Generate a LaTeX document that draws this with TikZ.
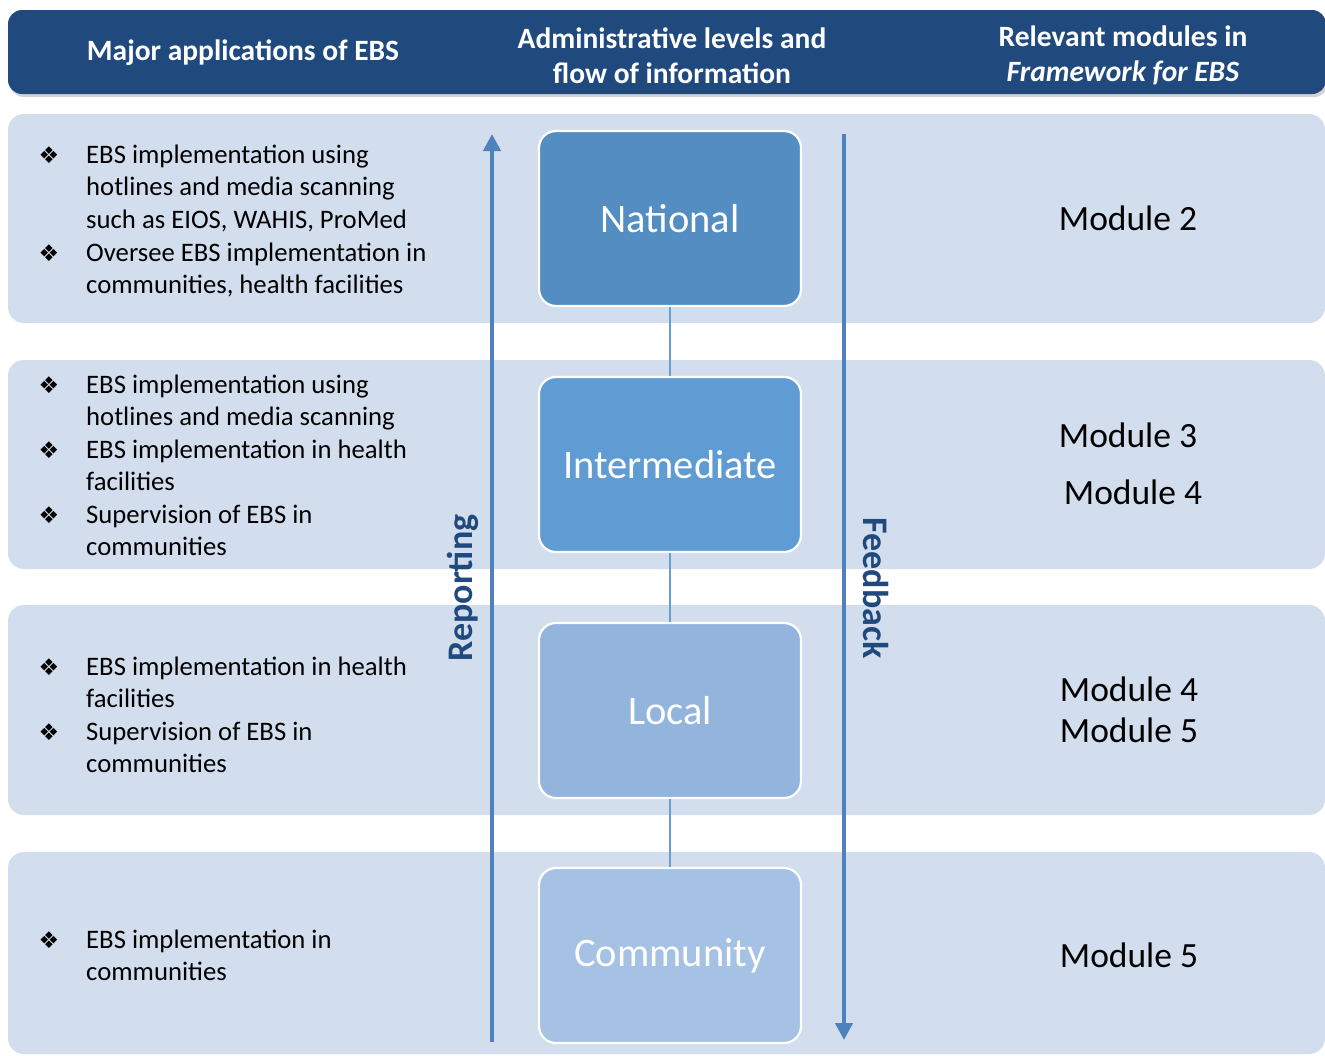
\documentclass[tikz,border=0pt]{standalone}
\usepackage{fontspec}
\setmainfont{Carlito}
\newfontfamily\dejavu{DejaVu Sans}
\usetikzlibrary{arrows.meta,shadows}
\definecolor{hdr}{RGB}{32,74,126}
\definecolor{band}{RGB}{210,222,238}
\definecolor{cnat}{RGB}{83,141,194}
\definecolor{cint}{RGB}{96,156,212}
\definecolor{cloc}{RGB}{146,180,221}
\definecolor{ccom}{RGB}{165,193,228}
\definecolor{arr}{RGB}{79,129,189}
\definecolor{lbl}{RGB}{32,74,126}
\definecolor{conn}{RGB}{100,158,212}
\tikzset{
  x=1pt, y=-1pt,
  hdrbox/.style={fill=hdr, rounded corners=14pt, draw=none,
    drop shadow={opacity=0.35, shadow xshift=2pt, shadow yshift=-3pt}},
  bandbox/.style={fill=band, rounded corners=16pt, draw=none},
  hdrtext/.style={text=white, font=\fontsize{29.5}{35}\selectfont\bfseries, align=center, inner sep=0pt},
  level/.style={draw=white, line width=2.2pt, rounded corners=17pt, minimum width=262pt, minimum height=175pt,
    text=white, font=\fontsize{40.5}{48}\selectfont, inner sep=0pt},
  item/.style={anchor=base west, align=left, inner sep=0pt, text=black,
    font=\fontsize{26.7}{32.5}\selectfont},
  bul/.style={anchor=base, inner sep=0pt, font=\dejavu\fontsize{23}{28}\selectfont},
  modtext/.style={anchor=base, inner sep=0pt, font=\fontsize{35.5}{42}\selectfont},
  flow/.style={draw=arr, line width=4.5pt, -{Triangle[width=17pt,length=17pt]}},
  side/.style={text=lbl, font=\fontsize{36}{40}\selectfont\bfseries, inner sep=0pt},
  conline/.style={draw=conn, line width=2pt}
}
\begin{document}
\begin{tikzpicture}
\useasboundingbox (0,0) rectangle (1325,1055);
% header
\path[hdrbox] (8,10) rectangle (1326,94);
\node[hdrtext] (h1) at (243,53) {Major applications of EBS};
\node[hdrtext] (h2) at (672,56) {Administrative levels and\\flow of information};
\node[hdrtext] (h3) at (1123,55) {Relevant modules in\\\textit{Framework for EBS}};
% bands
\path[bandbox] (8,114) rectangle (1325,323);
\path[bandbox] (8,360) rectangle (1325,569);
\path[bandbox] (8,605) rectangle (1325,815);
\path[bandbox] (8,852) rectangle (1325,1054);
% level boxes
\node[level, fill=cnat] (nat) at (670,218.5) {National};
\node[level, fill=cint] (int) at (670,464.5) {Intermediate};
\node[level, fill=cloc] (loc) at (670,710.5) {Local};
\node[level, fill=ccom] (com) at (670,955.5) {Community};
\draw[conline] (nat.south) -- (int.north);
\draw[conline] (int.south) -- (loc.north);
\draw[conline] (loc.south) -- (com.north);
% flow arrows
\coordinate (rb) at (492,1042);
\coordinate (rt) at (492,134);
\coordinate (fb) at (844,1040);
\coordinate (ft) at (844,134);
\draw[flow] (rb) -- (rt);
\draw[flow] (ft) -- (fb);
\node[side, rotate=90] (rep) at (463,588) {Reporting};
\node[side, rotate=-90] (fed) at (876,588) {Feedback};
% band 1 items
\node[bul] (b11) at (49,163) {❖};
\node[item] (t11) at (86,228) {EBS implementation using\\hotlines and media scanning\\such as EIOS, WAHIS, ProMed};
\node[bul] (b12) at (49,261) {❖};
\node[item] (t12) at (86,293.5) {Oversee EBS implementation in\\communities, health facilities};
% band 2 items
\node[bul] (b21) at (49,393) {❖};
\node[item] (t21) at (86,425.5) {EBS implementation using\\hotlines and media scanning};
\node[bul] (b22) at (49,458) {❖};
\node[item] (t22) at (86,490.5) {EBS implementation in health\\facilities};
\node[bul] (b23) at (49,523) {❖};
\node[item] (t23) at (86,555.5) {Supervision of EBS in\\communities};
% band 3 items
\node[bul] (b31) at (49,675) {❖};
\node[item] (t31) at (86,707.5) {EBS implementation in health\\facilities};
\node[bul] (b32) at (49,740) {❖};
\node[item] (t32) at (86,772.5) {Supervision of EBS in\\communities};
% band 4 items
\node[bul] (b41) at (49,948) {❖};
\node[item] (t41) at (86,980.5) {EBS implementation in\\communities};
% modules
\node[modtext] (m2) at (1128,230) {Module 2};
\node[modtext] (m3) at (1128,447) {Module 3};
\node[modtext] (m4a) at (1133,504) {Module 4};
\node[modtext] (m4b) at (1129,701) {Module 4};
\node[modtext] (m5a) at (1129,742) {Module 5};
\node[modtext] (m5b) at (1129,967) {Module 5};
\end{tikzpicture}
\end{document}
